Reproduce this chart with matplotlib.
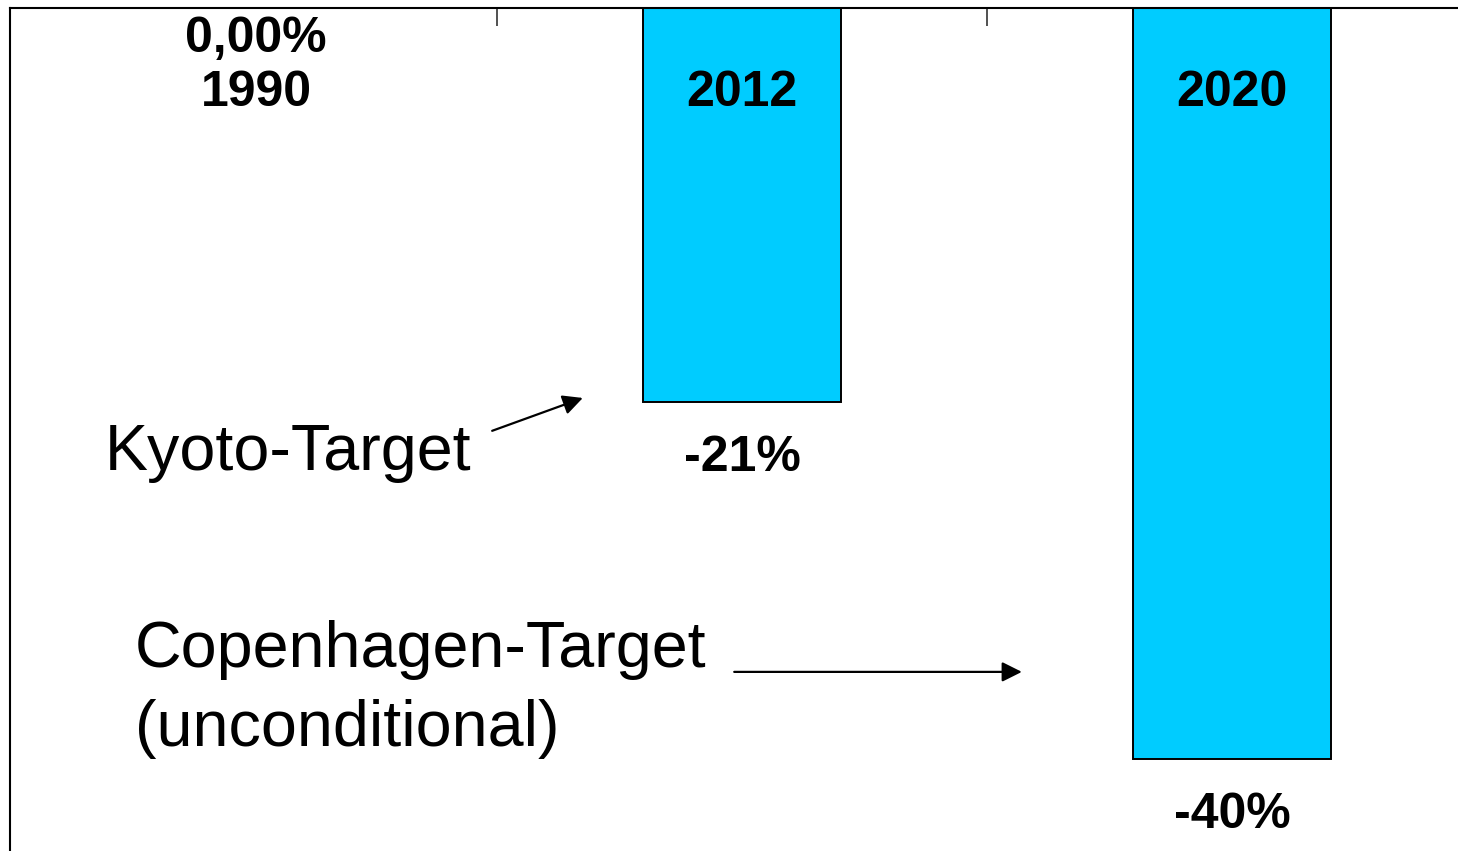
import matplotlib
matplotlib.use("Agg")
import matplotlib.pyplot as plt

plt.rcParams['font.family'] = ['Liberation Sans', 'DejaVu Sans']

years = ["1990", "2012", "2020"]
changes = [0.0, -21.0, -40.0]
value_labels = ["0,00%", "-21%", "-40%"]
bar_color = "#00CCFF"

fig = plt.figure(figsize=(14.58, 8.51), dpi=100)
W, H = 1458, 851
ax = fig.add_axes([10 / W, 0, 1 - 10 / W, 1 - 8 / H])

x = list(range(len(years)))
# the 1990 baseline has no bar, only its labels
ax.bar(x[1:], changes[1:], width=0.405, color=bar_color, edgecolor="black", linewidth=1.4)

x0 = -0.494
ax.set_xlim(x0, x0 + 1448 / 490)
ax.set_ylim(-44.9, 0)
ax.xaxis.tick_top()
ax.set_xticks([0.5, 1.5])
ax.set_xticklabels([])
ax.tick_params(axis="x", direction="in", length=13, width=1.2, color="#333333")
ax.set_yticks([])
for s in ["right", "bottom"]:
    ax.spines[s].set_visible(False)
for s in ["top", "left"]:
    ax.spines[s].set_linewidth(1.5)

lab = dict(ha="center", va="center", fontsize=36, fontweight="bold", textcoords="offset points")
# 1990: value and year stacked at the zero line
ax.annotate(value_labels[0], (x[0], changes[0]), xytext=(3, -22), **lab)
ax.annotate(years[0], (x[0], changes[0]), xytext=(3, -61), **lab)
for i in x[1:]:
    ax.annotate(years[i], (i, 0), xytext=(0, -61), **lab)
    ax.annotate(value_labels[i], (i, changes[i]), xytext=(0, -40), **lab)

big = dict(fontsize=46.5, va="baseline", ha="left")
ax.text(-0.300, -24.6, "Kyoto-Target", **big)
ax.text(-0.239, -35.1, "Copenhagen-Target", **big)
ax.text(-0.239, -39.3, "(unconditional)", **big)

arrow = dict(arrowstyle="-|>", color="black", lw=1.6, mutation_scale=30, shrinkA=0, shrinkB=0)
ax.annotate("", xy=(0.675, -20.77), xytext=(0.490, -22.52), arrowprops=arrow)
ax.annotate("", xy=(1.571, -35.36), xytext=(0.984, -35.36), arrowprops=arrow)

fig.savefig("out.png", dpi=100)
